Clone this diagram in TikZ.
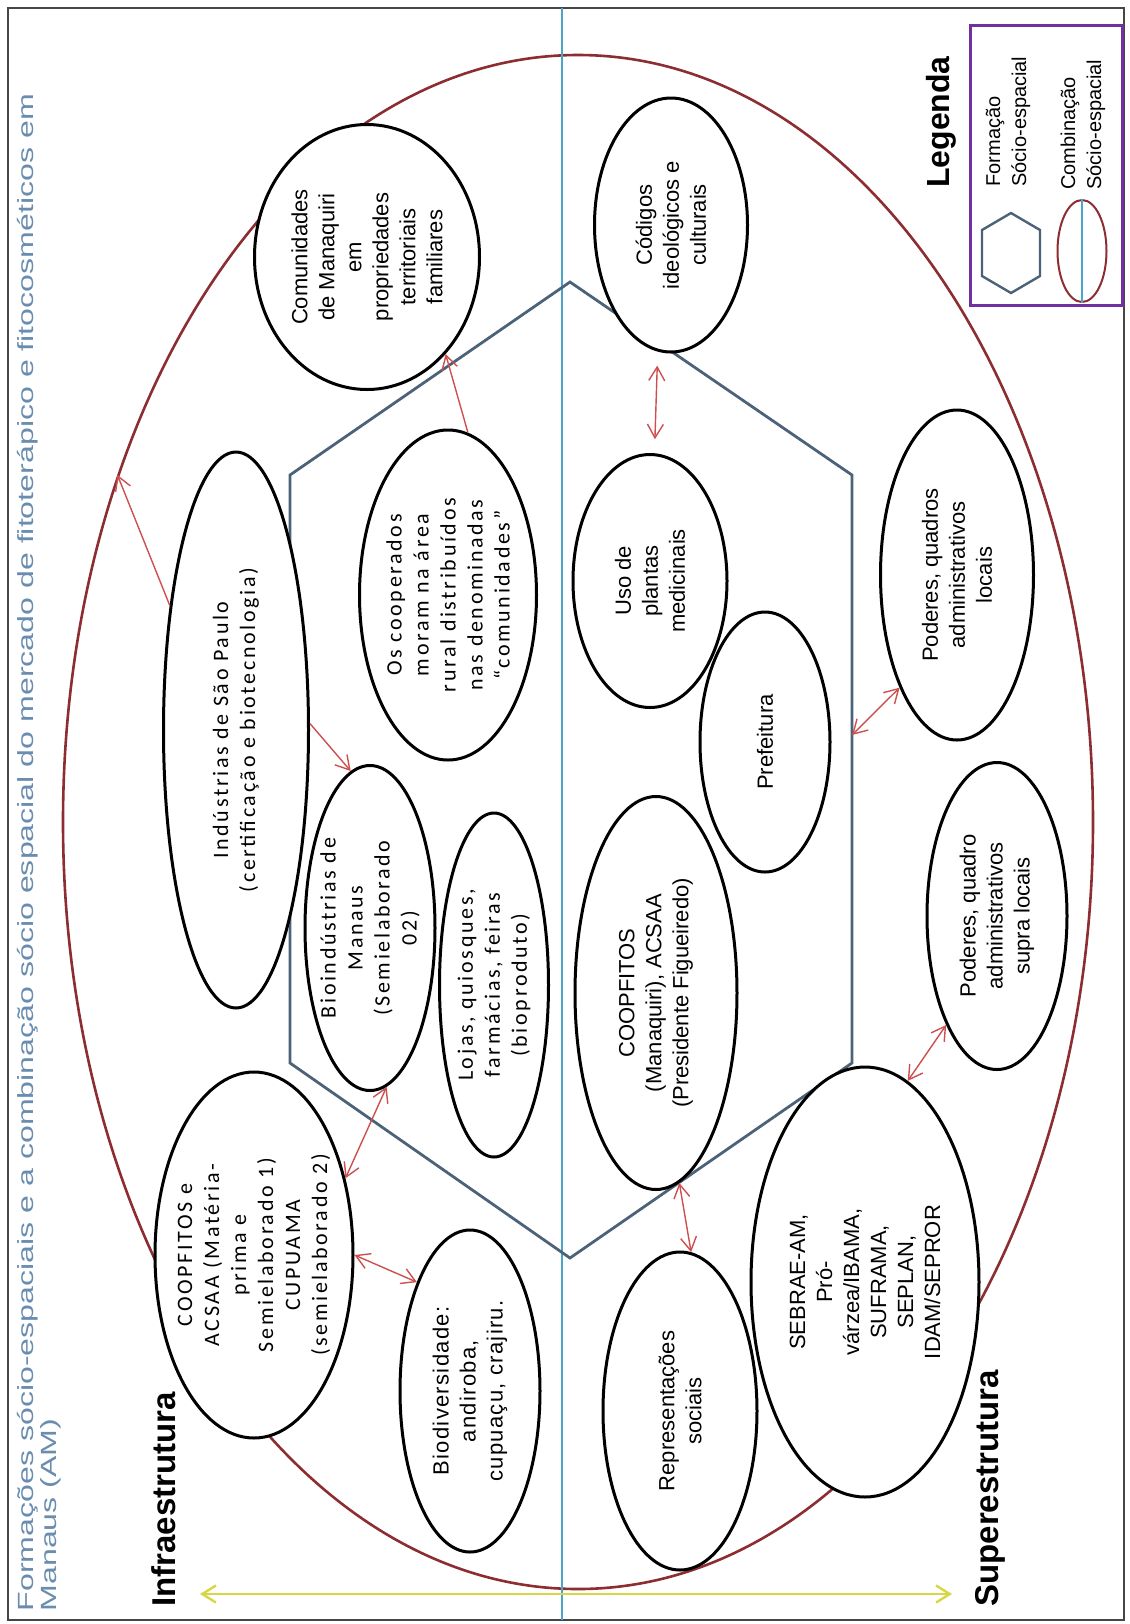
\documentclass[tikz,border=0pt]{standalone}
\usepackage{fontspec}
\setmainfont{Liberation Sans}
\newfontfamily\calfont[LetterSpace=12]{Carlito}
\newfontfamily\spacedfont[LetterSpace=6]{Liberation Sans}
\usepackage{xcolor}
\usepackage{tikz}
\usetikzlibrary{shapes.geometric, arrows.meta}

\definecolor{combred}{RGB}{140,45,50}
\definecolor{hexblue}{RGB}{75,98,120}
\definecolor{axisblue}{RGB}{75,165,200}
\definecolor{titleblue}{RGB}{105,140,175}
\definecolor{relred}{RGB}{205,80,80}
\definecolor{axisyellow}{RGB}{215,215,70}
\definecolor{legpurple}{RGB}{112,48,160}
\definecolor{framegray}{RGB}{70,70,70}

\begin{document}
\begin{tikzpicture}[x=0.5pt, y=-0.5pt,
    bubble/.style={ellipse, draw, fill=white, line width=1.5pt, rotate=90,
                   inner sep=-10pt, align=center,
                   font=\fontsize{11}{13.5}\selectfont},
    calbubble/.style={bubble, font=\calfont\fontsize{11}{13.5}\selectfont},
    lbl/.style={rotate=90, anchor=west, inner sep=0pt},
    rel/.style={draw=relred, line width=0.7pt,
                {Straight Barb[length=2.4mm, width=2.8mm]}-{Straight Barb[length=2.4mm, width=2.8mm]}},
    relto/.style={draw=relred, line width=0.7pt,
                -{Straight Barb[length=2.4mm, width=2.8mm]}}]
  \useasboundingbox (0,0) rectangle (1130,1624);
  \draw[framegray, line width=1pt] (8,8) rectangle (1124,1620);

  % title
  \node[lbl, titleblue, xscale=1.46, align=left,
        font=\fontsize{11}{11.5}\selectfont] (title) at (39,1612)
        {Formações sócio-espaciais e a combinação sócio espacial do mercado de fitoterápico e fitocosméticos em\\Manaus (AM)};

  % combinacao socio-espacial and formacao
  \node[ellipse, draw=combred, line width=1.3pt, inner sep=0pt,
        minimum width=515pt, minimum height=767pt] (comb) at (578,822) {};
  \draw[axisblue, line width=0.8pt] (562,8) -- (562,1620);
  \draw[hexblue, line width=1.4pt] (570,282) -- (852,475) -- (852,1063)
        -- (570,1258) -- (290,1063) -- (290,475) -- cycle;
  \coordinate (hexE) at (852,735);

  % infraestrutura
  \node[bubble, minimum width=132.5pt, minimum height=112.5pt] (comun) at (367,257)
        {Comunidades\\de Manaquiri\\em\\propriedades\\territoriais\\familiares};
  \node[calbubble, minimum width=278pt, minimum height=72.5pt] (indsp) at (236,730)
        {Indústrias de São Paulo\\(certificação e biotecnologia)};
  \node[calbubble, minimum width=165pt, minimum height=88.5pt] (coop) at (448,595)
        {Os cooperados\\moram na área\\rural distribuídos\\nas denominadas\\“comunidades”};
  \node[calbubble, minimum width=162.5pt, minimum height=65pt] (bioind) at (370,928)
        {Bioindústrias de\\Manaus\\(Semielaborado\\02)};
  \node[calbubble, minimum width=172pt, minimum height=54.5pt] (lojas) at (494,985)
        {Lojas, quiosques,\\farmácias, feiras\\(bioproduto)};
  \node[calbubble, minimum width=183pt, minimum height=99pt] (coopacsaa) at (254,1255)
        {COOPFITOS e\\ACSAA (Matéria-\\prima e\\Semielaborado 1)\\CUPUAMA\\(semielaborado 2)};
  \node[bubble, font=\spacedfont\fontsize{11}{13.5}\selectfont,
        minimum width=161pt, minimum height=70pt] (biodiv) at (470,1391)
        {Biodiversidade:\\andiroba,\\cupuaçu, crajiru.};

  % superestrutura
  \node[bubble, minimum width=127pt, minimum height=76.5pt] (codigos) at (671,225)
        {Códigos\\ideológicos e\\culturais};
  \node[bubble, minimum width=126.5pt, minimum height=77pt] (uso) at (650,581)
        {Uso de\\plantas\\medicinais};
  \node[bubble, minimum width=130pt, minimum height=65pt] (pref) at (765,742)
        {Prefeitura};
  \node[bubble, minimum width=196.5pt, minimum height=81pt] (coopman) at (656,993)
        {COOPFITOS\\(Manaquiri), ACSAA\\(Presidente Figueiredo)};
  \node[bubble, minimum width=159pt, minimum height=77pt] (repr) at (680,1411)
        {Representações\\sociais};
  \node[bubble, minimum width=165pt, minimum height=76.5pt] (podloc) at (957,575)
        {Poderes, quadros\\administrativos\\locais};
  \node[bubble, minimum width=153.5pt, minimum height=70pt] (podsup) at (997,916)
        {Poderes, quadro\\administrativos\\supra locais};
  \node[bubble, minimum width=215pt, minimum height=114pt] (sebrae) at (865,1282)
        {SEBRAE-AM,\\Pró-\\várzea/IBAMA,\\SUFRAMA,\\SEPLAN,\\IDAM/SEPROR};

  % relations
  \draw[relto] (indsp.-85) -- (bioind.7);
  \draw[relto] (indsp.28) -- (comb.143.5);
  \draw[relto] (coop.-7) -- (comun.-141);
  \draw[rel, shorten <=7pt, shorten >=7pt] (codigos.174) -- (uso.-2);
  \draw[rel] (coopacsaa.-50) -- (bioind.-174);
  \draw[rel] (coopacsaa.-90) -- (biodiv.26);
  \draw[rel] (hexE) -- (podloc.153);
  \draw[rel] (coopman.-173) -- (repr.-4);
  \draw[rel] (sebrae.-12) -- (podsup.155);

  % eixo infra / super
  \coordinate (infraend) at (200,1594);
  \coordinate (superend) at (952,1594);
  \draw[axisyellow, line width=1.2pt,
        {Straight Barb[length=2.4mm, width=3mm]}-{Straight Barb[length=2.4mm, width=3mm]}]
        (infraend) -- (superend);
  \node[lbl, font=\fontsize{16.5}{18}\selectfont\bfseries] (infra) at (164,1607)
        {Infraestrutura};
  \node[lbl, font=\fontsize{16.5}{18}\selectfont\bfseries] (super) at (990,1607)
        {Superestrutura};

  % legenda
  \node[rotate=90, font=\fontsize{16}{18}\selectfont\bfseries] (legenda) at (941,122) {Legenda};
  \draw[legpurple, line width=1.5pt] (970,25) rectangle (1122,305);
  \draw[hexblue, line width=1.2pt] (1011,213) -- (1040,230) -- (1040,276)
        -- (1011,293) -- (982,276) -- (982,230) -- cycle;
  \node[lbl, align=left, font=\fontsize{10}{13}\selectfont] (legform) at (1008,187)
        {Formação\\Sócio-espacial};
  \node[ellipse, draw=combred, line width=1pt, inner sep=0pt,
        minimum width=24.5pt, minimum height=51pt] (legcomb) at (1082,251) {};
  \draw[axisblue, line width=0.6pt] (legcomb.north) -- (legcomb.south);
  \node[lbl, align=left, font=\fontsize{10}{13}\selectfont] (legcombtxt) at (1083,190)
        {Combinação\\Sócio-espacial};
\end{tikzpicture}
\end{document}
